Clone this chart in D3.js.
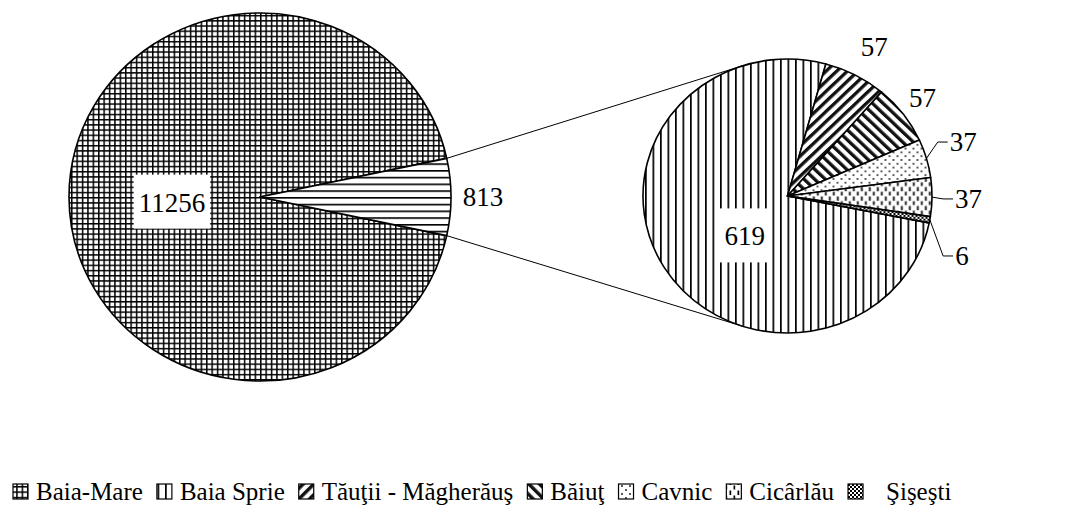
<!DOCTYPE html>
<html>
<head>
<meta charset="utf-8">
<script src="https://cdn.jsdelivr.net/npm/d3@7"></script>
<style>
  body { margin: 0; background: #fff; }
  text { font-family: "Liberation Serif", "Times New Roman", serif; fill: #000; }
</style>
</head>
<body>
<svg id="main"></svg>
<script>
// data
var mainNames = ["Baia-Mare", "Altele"];
var mainValues = [11256, 813];
var subNames = ["Baia Sprie", "T\u0103u\u0163ii - M\u0103gher\u0103u\u015F", "B\u0103iu\u0163", "Cavnic", "Cic\u00E2rl\u0103u", "\u015Ei\u015Fe\u015Fti"];
var subValues = [619, 57, 57, 37, 37, 6];
var legendNames = ["Baia-Mare", "Baia Sprie", "T\u0103u\u0163ii - M\u0103gher\u0103u\u015F", "B\u0103iu\u0163", "Cavnic", "Cic\u00E2rl\u0103u", "\u015Ei\u015Fe\u015Fti"];

// layout
var W = 1068, H = 509;
var mainPie = {cx: 260, cy: 197, rx: 191, ry: 184};
var subPie = {cx: 787.5, cy: 196, rx: 144.5, ry: 137};
var subFirstSmall = 15.4; // degrees, where the first small slice starts
var mainPat = ["pat-grid", "pat-horiz"];
var subPat = ["pat-vert", "pat-fwd", "pat-back", "pat-dots", "pat-dash", "pat-check"];
var legendPat = ["pat-grid", "pat-vert", "pat-fwd", "pat-back", "pat-dots", "pat-dash", "pat-check"];
var mainLabelShift = [-3.5, 0], mainLabelRadius = [0.462, 1.167];
var subLabelShift = [-13, 0.8, -0.9, -3.4, 0.6, 10.7];
var subLabelRadius = [0.415, 1.245, 1.18, 1.19, 1.16, 1.24];
var subLeader = [false, false, false, true, true, true];

var svg = d3.select("#main").attr("width", W).attr("height", H);
var defs = svg.append("defs");

function pattern(id, w, h, draw, transform) {
  var p = defs.append("pattern").attr("id", id)
    .attr("patternUnits", "userSpaceOnUse")
    .attr("width", w).attr("height", h);
  if (transform) p.attr("patternTransform", transform);
  p.append("rect").attr("width", w).attr("height", h).attr("fill", "#fff");
  draw(p);
}

pattern("pat-grid", 5.4, 5.4, function(p) {
  p.append("rect").attr("width", 5.4).attr("height", 1.5).attr("fill", "#000");
  p.append("rect").attr("width", 1.5).attr("height", 5.4).attr("fill", "#000");
});
pattern("pat-horiz", 7, 7, function(p) {
  p.append("rect").attr("width", 7).attr("height", 1.7).attr("fill", "#000");
});
pattern("pat-vert", 7.5, 7.5, function(p) {
  p.append("rect").attr("width", 1.7).attr("height", 7.5).attr("fill", "#000");
});
pattern("pat-fwd", 7.5, 7.5, function(p) {
  p.append("rect").attr("width", 3.4).attr("height", 7.5).attr("fill", "#111");
}, "rotate(45)");
pattern("pat-back", 7.5, 7.5, function(p) {
  p.append("rect").attr("width", 3.4).attr("height", 7.5).attr("fill", "#111");
}, "rotate(-45)");
pattern("pat-dots", 8, 8, function(p) {
  p.append("circle").attr("cx", 2).attr("cy", 2).attr("r", 1).attr("fill", "#222");
  p.append("circle").attr("cx", 6).attr("cy", 6).attr("r", 1).attr("fill", "#222");
});
pattern("pat-dash", 8, 10, function(p) {
  p.append("rect").attr("x", 1.5).attr("y", 0.5).attr("width", 1.7).attr("height", 4.5).attr("fill", "#000");
  p.append("rect").attr("x", 5.5).attr("y", 5.5).attr("width", 1.7).attr("height", 4).attr("fill", "#000");
});
pattern("pat-check", 4, 4, function(p) {
  p.append("rect").attr("width", 2).attr("height", 2).attr("fill", "#000");
  p.append("rect").attr("x", 2).attr("y", 2).attr("width", 2).attr("height", 2).attr("fill", "#000");
});

var rad = Math.PI / 180;
function pointAt(c, a, f) {
  return [c.cx + c.rx * f * Math.sin(a), c.cy - c.ry * f * Math.cos(a)];
}

// main pie: "other" slice centred at 3 o'clock
var mainTotal = d3.sum(mainValues);
var otherSpan = mainValues[1] / mainTotal * 2 * Math.PI;
var mainStart = Math.PI / 2 + otherSpan / 2;
var mainArcs = d3.pie().sort(null).startAngle(mainStart).endAngle(mainStart + 2 * Math.PI)(mainValues);

// secondary pie
var subTotal = d3.sum(subValues);
var subStart = subFirstSmall * rad - subValues[0] / subTotal * 2 * Math.PI;
var subArcs = d3.pie().sort(null).startAngle(subStart).endAngle(subStart + 2 * Math.PI)(subValues);

// connector lines (tangent to the secondary pie)
function tangentPoint(p, c, sign) {
  var nx = (p[0] - c.cx) / c.rx, ny = (p[1] - c.cy) / c.ry;
  var d = Math.hypot(nx, ny), base = Math.atan2(ny, nx), off = Math.acos(1 / d);
  var a = base + sign * off;
  return [c.cx + c.rx * Math.cos(a), c.cy + c.ry * Math.sin(a)];
}
var topStart = pointAt(mainPie, mainArcs[1].startAngle, 1);
var botStart = pointAt(mainPie, mainArcs[1].endAngle, 1);
[[topStart, tangentPoint(topStart, subPie, 1)], [botStart, tangentPoint(botStart, subPie, -1)]].forEach(function(l) {
  svg.append("line")
    .attr("x1", l[0][0]).attr("y1", l[0][1])
    .attr("x2", l[1][0]).attr("y2", l[1][1])
    .attr("stroke", "#000").attr("stroke-width", 1);
});

function drawPie(c, arcs, pats) {
  var arc = d3.arc().innerRadius(0).outerRadius(c.rx);
  var g = svg.append("g")
    .attr("transform", "translate(" + c.cx + "," + c.cy + ") scale(1," + (c.ry / c.rx) + ")");
  g.selectAll("path").data(arcs).enter().append("path")
    .attr("d", arc)
    .attr("fill", function(d, i) { return "url(#" + pats[i] + ")"; })
    .attr("stroke", "#000")
    .attr("stroke-width", 1.6)
    .attr("stroke-linejoin", "round")
    .attr("vector-effect", "non-scaling-stroke");
}
drawPie(mainPie, mainArcs, mainPat);
drawPie(subPie, subArcs, subPat);

function mid(d) { return (d.startAngle + d.endAngle) / 2; }

function boxedLabel(x, y, txt) {
  var g = svg.append("g");
  var t = g.append("text").attr("x", x).attr("y", y).attr("dy", "0.35em")
    .attr("text-anchor", "middle").attr("font-size", 27).text(txt);
  var b = t.node().getBBox();
  g.insert("rect", "text")
    .attr("x", b.x - 5).attr("y", b.y - 13)
    .attr("width", b.width + 10).attr("height", b.height + 24)
    .attr("fill", "#fff");
}

// main pie labels
mainArcs.forEach(function(d, i) {
  var p = pointAt(mainPie, mid(d) + mainLabelShift[i] * rad, mainLabelRadius[i]);
  if (i === 0) boxedLabel(p[0], p[1], d3.format("d")(d.data));
  else svg.append("text").attr("x", p[0]).attr("y", p[1]).attr("dy", "0.35em")
    .attr("text-anchor", "middle").attr("font-size", 27).text(d.data);
});

// secondary pie labels
subArcs.forEach(function(d, i) {
  var p = pointAt(subPie, mid(d) + subLabelShift[i] * rad, subLabelRadius[i]);
  if (i === 0) { boxedLabel(p[0], p[1], d.data); return; }
  if (subLeader[i]) {
    var e = pointAt(subPie, mid(d), 1);
    svg.append("polyline")
      .attr("points", [e, [p[0] - 12, p[1]], [p[0] - 2, p[1]]].map(function(q) { return q.join(","); }).join(" "))
      .attr("fill", "none").attr("stroke", "#000").attr("stroke-width", 1);
  }
  svg.append("text").attr("x", p[0]).attr("y", p[1]).attr("dy", "0.35em")
    .attr("text-anchor", subLeader[i] ? "start" : "middle")
    .attr("font-size", 27).text(d.data);
});

// legend
var lx = 13, ly = 484;
var legend = svg.append("g");
legendNames.forEach(function(name, i) {
  legend.append("rect").attr("x", lx).attr("y", ly).attr("width", 15).attr("height", 15)
    .attr("fill", "url(#" + legendPat[i] + ")").attr("stroke", "#000").attr("stroke-width", 1.2);
  var tx = lx + 15 + (i === 6 ? 23 : 8);
  var t = legend.append("text").attr("x", tx).attr("y", ly + 16).attr("font-size", 25).text(name);
  lx = tx + t.node().getComputedTextLength() + 14;
});
</script>
</body>
</html>
